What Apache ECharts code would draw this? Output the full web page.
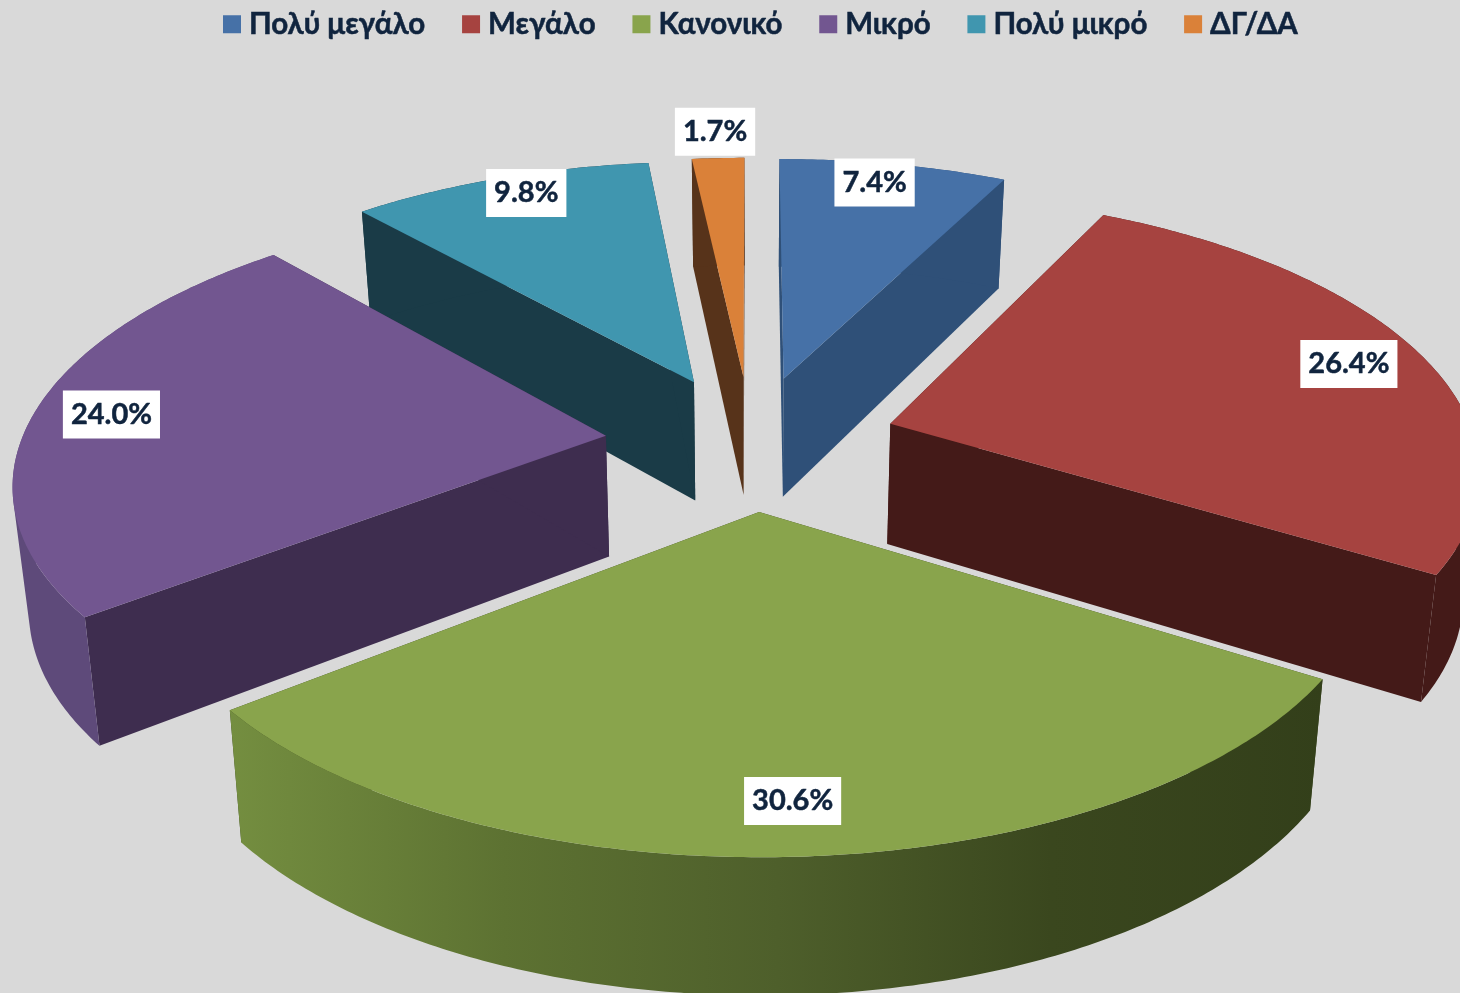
<!DOCTYPE html>
<html><head><meta charset="utf-8">
<style>html,body{margin:0;padding:0;background:#D9D9D9}#c{width:1460px;height:993px}</style>
<script src="https://cdn.jsdelivr.net/npm/echarts@6/dist/echarts.min.js"></script>
</head><body><div id="c"></div>
<script>
// ---- data ----
const categories = ['Πολύ μεγάλο', 'Μεγάλο', 'Κανονικό', 'Μικρό', 'Πολύ μικρό', 'ΔΓ/ΔΑ'];
const shares = [7.4, 26.4, 30.6, 24.0, 9.8, 1.7];
// ---- styles ----
const topColors = ['#4671A7', '#A64340', '#89A44C', '#725690', '#4096AF', '#DA8139'];
const wallColors = ['#2F5078', '#441A18', '#38441D', '#3E2D4F', '#1A3B47', '#57331A'];
const curveColors = ['#2F5078', '#441A18', null, '#5E4A7A', '#1A3B47', '#57331A'];
const greenCurveStops = ['#748E40', '#5D7232', '#4E5F2B', '#3A471E', '#333F1A'];
const labelRadii = [0.90, 0.86, 0.86, 0.865, 0.91, 1.14];
const labelTurns = [-1.2, 0, 0, 0, 1.5, 0];
const paintOrder = [4, 5, 0, 3, 1, 2];
const FONT = 'Lato, "Open Sans", sans-serif';
const INK = '#10243E';
// ---- perspective model of the tilted pie ----
const view = {cx: 751, cy: 442, R: 585, depth: 270, persp: 0.15, explode: 0.25, height: 121, heightPersp: 0.1, taper: 0.978};
const total = shares.reduce((a, b) => a + b, 0);
echarts.graphic.registerShape('rimWall', echarts.graphic.extendShape({
  shape: {quads: []},
  buildPath: function (ctx, shape) {
    shape.quads.forEach(function (q) {
      let area = 0;
      q.forEach((p, n) => { const r = q[(n + 1) % q.length]; area += p[0] * r[1] - r[0] * p[1]; });
      const pts = area < 0 ? q.slice().reverse() : q;
      ctx.moveTo(pts[0][0], pts[0][1]);
      for (let n = 1; n < pts.length; n++) ctx.lineTo(pts[n][0], pts[n][1]);
      ctx.closePath();
    });
  }
}));
function top3d(x, y) {
  const w = 1 + view.persp * y;
  return [view.cx + view.R * x / w, view.cy - view.depth * y / w];
}
function bottom3d(x, y) {
  const p = top3d(x, y);
  return [view.cx + (p[0] - view.cx) * view.taper, p[1] + view.height / (1 + view.heightPersp * y)];
}
function sliceGeometry(i) {
  const start = shares.slice(0, i).reduce((a, b) => a + b, 0) / total * 2 * Math.PI;
  const end = start + shares[i] / total * 2 * Math.PI;
  const mid = (start + end) / 2;
  const ox = view.explode * Math.sin(mid), oy = view.explode * Math.cos(mid);
  const n = Math.max(4, Math.ceil((end - start) * 90));
  const rim = [];
  for (let k = 0; k <= n; k++) {
    const t = start + (end - start) * k / n;
    rim.push([ox + Math.sin(t), oy + Math.cos(t)]);
  }
  return {mid, ox, oy, rim};
}
function renderSlice(i) {
  return function (params, api) {
    const value = api.value(0);
    const g = sliceGeometry(i);
    const apex = [g.ox, g.oy];
    const first = g.rim[0], last = g.rim[g.rim.length - 1];
    const quad = (a, b) => [top3d(a[0], a[1]), top3d(b[0], b[1]), bottom3d(b[0], b[1]), bottom3d(a[0], a[1])];
    const fill = curveColors[i] || new echarts.graphic.LinearGradient(view.cx - 521, 0, view.cx + 574, 0,
      greenCurveStops.map((c, k) => ({offset: k / (greenCurveStops.length - 1), color: c})), true);
    const quads = [];
    for (let k = 0; k + 1 < g.rim.length; k++) quads.push(quad(g.rim[k], g.rim[k + 1]));
    const face = [top3d(apex[0], apex[1])].concat(g.rim.map(p => top3d(p[0], p[1])));
    const lr = labelRadii[i], la = g.mid + labelTurns[i] * Math.PI / 180;
    const lp = top3d(g.ox + lr * Math.sin(la), g.oy + lr * Math.cos(la));
    return {type: 'group', children: [
      {type: 'polygon', shape: {points: quad(apex, first)}, style: {fill: wallColors[i]}},
      {type: 'polygon', shape: {points: quad(apex, last)}, style: {fill: wallColors[i]}},
      {type: 'rimWall', shape: {quads: quads}, style: {fill: fill}},
      {type: 'polygon', shape: {points: face}, style: {fill: topColors[i]}},
      {type: 'text', z2: 50, style: {
        text: value.toFixed(1) + '%', x: lp[0], y: lp[1], align: 'center', verticalAlign: 'middle',
        font: 'bold 29px ' + FONT, fill: INK, stroke: INK, lineWidth: 0.5, backgroundColor: '#FFFFFF',
        padding: [10, 8, 9, 8]
      }}
    ]};
  };
}
const chart = echarts.init(document.getElementById('c'), null, {renderer: 'canvas'});
chart.setOption({
  backgroundColor: '#D9D9D9',
  animation: false,
  legend: {
    data: categories, top: 4, left: 218, itemWidth: 18, itemHeight: 18, itemGap: 36.5,
    icon: 'rect', textStyle: {fontFamily: FONT, fontWeight: 'bold', fontSize: 29.5, color: INK,
      textBorderColor: INK, textBorderWidth: 0.5, padding: [0, 0, 0, 3]}
  },
  series: categories.map((name, i) => ({
    type: 'custom', name: name, coordinateSystem: 'none', silent: true,
    z: 2 + paintOrder.indexOf(i),
    itemStyle: {color: topColors[i]},
    data: [[shares[i]]],
    renderItem: renderSlice(i)
  }))
});
</script></body></html>
